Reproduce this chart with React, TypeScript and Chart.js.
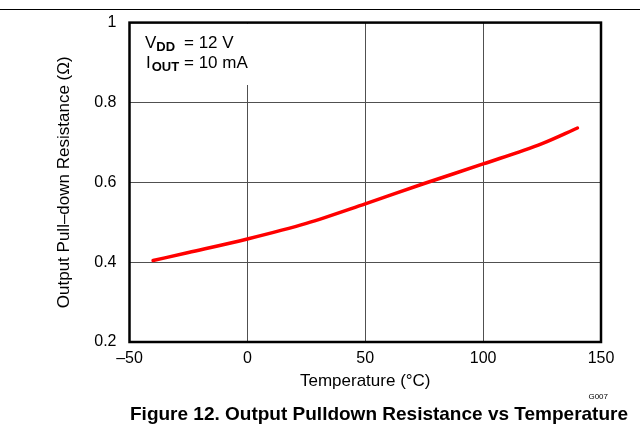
import React, { useEffect, useRef } from "react";
import { Chart, registerables } from "chart.js";

Chart.register(...registerables);

const temperatures: number[] = [-40, -25, 0, 25, 50, 75, 100, 125, 140];
const resistance: number[] = [0.404, 0.424, 0.458, 0.497, 0.546, 0.597, 0.646, 0.697, 0.736];
const xTicks: number[] = [-50, 0, 50, 100, 150];
const yTicks: number[] = [0.2, 0.4, 0.6, 0.8, 1];
const xTitle = "Temperature (°C)";
const yTitle = "Output Pull–down Resistance (Ω)";
const figureTitle = "Figure 12. Output Pulldown Resistance vs Temperature";
const figureCode = "G007";

const FONT = "'Liberation Sans', Arial, Helvetica, sans-serif";

const decorPlugin = {
  id: "decor",
  beforeDatasetsDraw(chart: any) {
    const { ctx, chartArea } = chart;
    ctx.save();
    // white box behind annotation
    ctx.fillStyle = "#ffffff";
    ctx.fillRect(chartArea.left + 1, chartArea.top + 1, 132, 85 - chartArea.top - 1);
    ctx.fillStyle = "#000000";
    ctx.textBaseline = "alphabetic";
    ctx.textAlign = "left";
    // line 1
    ctx.font = `17px ${FONT}`;
    ctx.fillText("V", 145, 48);
    let w = ctx.measureText("V").width;
    ctx.font = `bold 13px ${FONT}`;
    ctx.fillText("DD", 145 + w, 51);
    ctx.font = `17px ${FONT}`;
    ctx.fillText("= 12 V", 184, 48);
    // line 2
    ctx.fillText("I", 146, 68);
    w = ctx.measureText("I").width;
    ctx.font = `bold 13px ${FONT}`;
    ctx.fillText("OUT", 146 + w + 1, 71);
    ctx.font = `17px ${FONT}`;
    ctx.fillText("= 10 mA", 184, 68);
    ctx.restore();
  },
  afterDraw(chart: any) {
    const { ctx, chartArea, width } = chart;
    ctx.save();
    // frame
    ctx.strokeStyle = "#000000";
    ctx.lineWidth = 2.5;
    ctx.strokeRect(chartArea.left, chartArea.top, chartArea.right - chartArea.left, chartArea.bottom - chartArea.top);
    // top rule
    ctx.lineWidth = 1;
    ctx.beginPath();
    ctx.moveTo(0, 9.5);
    ctx.lineTo(width, 9.5);
    ctx.stroke();
    // code
    ctx.fillStyle = "#000000";
    ctx.font = `8px ${FONT}`;
    ctx.textAlign = "right";
    ctx.textBaseline = "middle";
    ctx.fillText(figureCode, 608, 397);
    // figure title
    ctx.font = `bold 19px ${FONT}`;
    ctx.textAlign = "center";
    ctx.textBaseline = "alphabetic";
    ctx.fillText(figureTitle, 379, 420);
    ctx.restore();
  },
};

export default function App() {
  const canvasRef = useRef<HTMLCanvasElement | null>(null);

  useEffect(() => {
    document.body.style.margin = "0";
    const canvas = canvasRef.current;
    if (!canvas) return;
    const chart = new Chart(canvas, {
      type: "line",
      data: {
        datasets: [
          {
            data: temperatures.map((t, i) => ({ x: t, y: resistance[i] })),
            borderColor: "#ff0000",
            borderWidth: 3.5,
            pointRadius: 0,
            cubicInterpolationMode: "monotone",
            borderCapStyle: "round",
            fill: false,
          },
        ],
      },
      options: {
        animation: false,
        responsive: false,
        devicePixelRatio: 1,
        layout: { padding: { left: 0, top: 22, right: 39, bottom: 0 } },
        plugins: { legend: { display: false }, tooltip: { enabled: false }, title: { display: false } },
        scales: {
          x: {
            type: "linear",
            min: xTicks[0],
            max: xTicks[xTicks.length - 1],
            afterBuildTicks: (s: any) => {
              s.ticks = xTicks.map((v) => ({ value: v }));
            },
            afterFit: (s: any) => {
              s.height = 84;
            },
            ticks: {
              color: "#000",
              font: { family: FONT, size: 16 },
              padding: 7,
              maxRotation: 0,
              callback: (v: any) => (Number(v) < 0 ? "–" + Math.abs(Number(v)) : String(v)),
            },
            grid: { color: "#505050", lineWidth: 1, drawTicks: false },
            border: { display: false },
            title: {
              display: true,
              text: xTitle,
              color: "#000",
              font: { family: FONT, size: 17 },
              padding: { top: 0, bottom: 34.8 },
            },
          },
          y: {
            type: "linear",
            min: yTicks[0],
            max: yTicks[yTicks.length - 1],
            afterBuildTicks: (s: any) => {
              s.ticks = yTicks.map((v) => ({ value: v }));
            },
            afterFit: (s: any) => {
              s.width = 129.5;
            },
            ticks: {
              color: "#000",
              font: { family: FONT, size: 16 },
              padding: 13,
              callback: (v: any) => (Number(v) === 1 ? "1" : Number(v).toFixed(1)),
            },
            grid: { color: "#505050", lineWidth: 1, drawTicks: false },
            border: { display: false },
            title: {
              display: true,
              text: yTitle,
              color: "#000",
              font: { family: FONT, size: 17 },
              padding: { top: 54.3, bottom: 0 },
            },
          },
        },
      },
      plugins: [decorPlugin],
    } as any);
    return () => chart.destroy();
  }, []);

  return <canvas ref={canvasRef} width={640} height={426} style={{ display: "block" }} />;
}
